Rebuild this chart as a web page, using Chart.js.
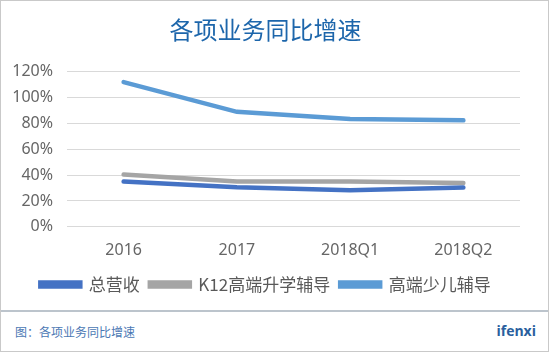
<!DOCTYPE html>
<html>
<head>
    <title>各项业务同比增速</title>
    <script src="https://cdn.jsdelivr.net/npm/chart.js"></script>
    <style>
        body {
            margin: 0;
            font-family: "Noto Sans CJK SC", "Noto Sans", sans-serif;
            background: #fff;
        }
        #frame {
            width: 547px;
            height: 350px;
            border: 1px solid #c9c9c9;
            position: relative;
            overflow: hidden;
        }
        #chartBox {
            width: 547px;
            height: 309px;
            position: relative;
        }
        #divider {
            height: 2px;
            background: #bcc4cc;
        }
        #footer {
            height: 39px;
            position: relative;
        }
        #caption {
            position: absolute;
            left: 14px;
            top: 11px;
            font-size: 12px;
            color: #4b78b4;
        }
        #brand {
            position: absolute;
            right: 12px;
            top: 9px;
            font-size: 14px;
            font-weight: bold;
            color: #2a5f9e;
            font-family: "Open Sans", sans-serif;
        }
    </style>
</head>
<body>
    <div id="frame">
        <div id="chartBox"><canvas id="growthChart"></canvas></div>
        <div id="divider"></div>
        <div id="footer">
            <div id="caption">图：各项业务同比增速</div>
            <div id="brand">ifenxi</div>
        </div>
    </div>

    <script>
        const categories = ["2016", "2017", "2018Q1", "2018Q2"];
        const totalRevenue = [35, 30.6, 28.3, 30.4];
        const k12Tutoring = [40.4, 35, 35, 34];
        const kidsTutoring = [112, 89, 83.5, 82.4];
        const yTicks = [0, 20, 40, 60, 80, 100, 120];

        const tickFont = { size: 16, family: '"Noto Sans", "Noto Sans CJK SC"' };

        const ctx = document.getElementById("growthChart").getContext('2d');
        new Chart(ctx, {
            type: 'line',
            data: {
                labels: categories,
                datasets: [{
                    label: '总营收',
                    data: totalRevenue,
                    borderColor: '#4472c4',
                    backgroundColor: '#4472c4',
                    borderWidth: 4.5
                }, {
                    label: 'K12高端升学辅导',
                    data: k12Tutoring,
                    borderColor: '#a5a5a5',
                    backgroundColor: '#a5a5a5',
                    borderWidth: 4.5
                }, {
                    label: '高端少儿辅导',
                    data: kidsTutoring,
                    borderColor: '#5b9bd5',
                    backgroundColor: '#5b9bd5',
                    borderWidth: 4.5
                }]
            },
            options: {
                responsive: true,
                maintainAspectRatio: false,
                animation: false,
                elements: {
                    point: { radius: 0 },
                    line: { tension: 0, borderCapStyle: 'round' }
                },
                layout: {
                    padding: { left: 10, right: 28, top: 0, bottom: 7 }
                },
                plugins: {
                    title: {
                        display: true,
                        text: '各项业务同比增速',
                        color: '#1d66ab',
                        font: { size: 24, family: '"Noto Sans CJK SC"', weight: 'normal' },
                        padding: { top: 14, bottom: 28 }
                    },
                    legend: {
                        position: 'bottom',
                        labels: {
                            boxWidth: 40,
                            boxHeight: 4,
                            color: '#595959',
                            padding: 10,
                            font: { size: 17, family: '"Noto Sans CJK SC"' }
                        }
                    },
                    tooltip: { enabled: false }
                },
                scales: {
                    x: {
                        offset: true,
                        grid: { display: false },
                        border: { display: false },
                        ticks: {
                            color: '#666666',
                            font: tickFont,
                            padding: 6
                        }
                    },
                    y: {
                        min: 0,
                        max: 120,
                        afterFit: function (scale) { scale.width = 56; },
                        afterBuildTicks: function (scale) {
                            scale.ticks = yTicks.map(v => ({ value: v }));
                        },
                        grid: { color: '#d9d9d9', lineWidth: 1, drawTicks: false },
                        border: { display: false },
                        ticks: {
                            color: '#666666',
                            padding: 14,
                            font: tickFont,
                            callback: v => v + '%'
                        }
                    }
                }
            }
        });
    </script>
</body>
</html>
